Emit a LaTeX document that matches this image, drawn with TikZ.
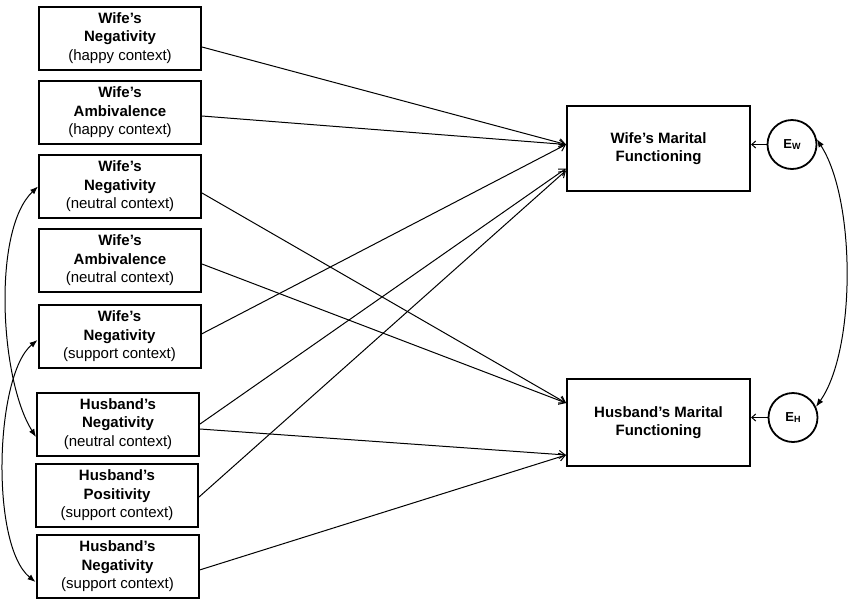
\documentclass[tikz,border=0pt]{standalone}
\usepackage{fontspec}
\setmainfont{Liberation Sans}
\usetikzlibrary{arrows.meta}
\begin{document}
\begin{tikzpicture}[x=1pt,y=-1pt,
  lbox/.style={draw,line width=2pt,minimum width=162pt,minimum height=63pt,inner sep=0pt,align=center,font=\fontsize{15}{18.5}\selectfont},
  rbox/.style={draw,line width=2pt,minimum width=183pt,minimum height=85pt,inner sep=0pt,align=center,font=\fontsize{15}{18.5}\selectfont\bfseries},
  err/.style={circle,draw,line width=1.8pt,minimum size=49pt,inner sep=0pt,font=\bfseries},
  arr/.style={line width=1pt,-{Straight Barb[length=6pt,width=8pt]}},
  arrs/.style={line width=1pt,-{Straight Barb[length=4pt,width=7pt]}},
  cov/.style={line width=1pt,{Latex[length=8pt,width=6pt]}-{Latex[length=8pt,width=6pt]}}
]
\useasboundingbox (0,0) rectangle (850,603);
\node[lbox] (b1) at (120,38) {\textbf{Wife’s}\\\textbf{Negativity}\\(happy context)};
\node[lbox] (b2) at (120,112.5) {\textbf{Wife’s}\\\textbf{Ambivalence}\\(happy context)};
\node[lbox] (b3) at (120,186.5) {\textbf{Wife’s}\\\textbf{Negativity}\\(neutral context)};
\node[lbox] (b4) at (120,260.5) {\textbf{Wife’s}\\\textbf{Ambivalence}\\(neutral context)};
\node[lbox] (b5) at (119.5,336.5) {\textbf{Wife’s}\\\textbf{Negativity}\\(support context)};
\node[lbox] (b6) at (118,424) {\textbf{Husband’s}\\\textbf{Negativity}\\(neutral context)};
\node[lbox] (b7) at (117,495.5) {\textbf{Husband’s}\\\textbf{Positivity}\\(support context)};
\node[lbox] (b8) at (117.5,566.5) {\textbf{Husband’s}\\\textbf{Negativity}\\(support context)};
\node[rbox] (wmf) at (658.5,148.5) {Wife’s Marital\\Functioning};
\node[rbox,minimum height=87pt] (hmf) at (658.5,422.5) {Husband’s Marital\\Functioning};
\node[err] (ew) at (792,144.5) {{\fontsize{13}{13}\selectfont E}\raisebox{-0.8pt}{\fontsize{9}{9}\selectfont W}};
\node[err] (eh) at (793,417.5) {{\fontsize{13}{13}\selectfont E}\raisebox{-0.8pt}{\fontsize{9}{9}\selectfont H}};
\draw[arr] ([yshift=-9pt]b1.east) -- ([yshift=4pt]wmf.west);
\draw[arr] ([yshift=-3.5pt]b2.east) -- ([yshift=4pt]wmf.west);
\draw[arr] ([yshift=-6.5pt]b3.east) -- ([yshift=19.5pt]hmf.west);
\draw[arr] ([yshift=-3.5pt]b4.east) -- ([yshift=19.5pt]hmf.west);
\draw[arr] ([yshift=2.5pt]b5.east) -- ([yshift=4pt]wmf.west);
\draw[arr] (b6.east) -- ([yshift=-20pt]wmf.west);
\draw[arr] ([yshift=-5pt]b6.east) -- ([yshift=-32.5pt]hmf.west);
\draw[arr] ([yshift=-1.5pt]b7.east) -- ([yshift=-22pt]wmf.west);
\draw[arr] ([yshift=-3.5pt]b8.east) -- ([yshift=-32.5pt]hmf.west);
\draw[arrs] (ew.west) -- (wmf.east |- ew.west);
\draw[arrs] (eh.west) -- (hmf.east |- eh.west);
\draw[cov] (b3.west) .. controls (-8,230) and (0,380) .. ([yshift=-13pt]b6.west);
\draw[cov] ([yshift=-3.5pt]b5.west) .. controls (-5,375) and (-10,545) .. ([yshift=-15.5pt]b8.west);
\draw[cov] (ew.12) .. controls (856,200) and (856,350) .. (eh.25);
\end{tikzpicture}
\end{document}
